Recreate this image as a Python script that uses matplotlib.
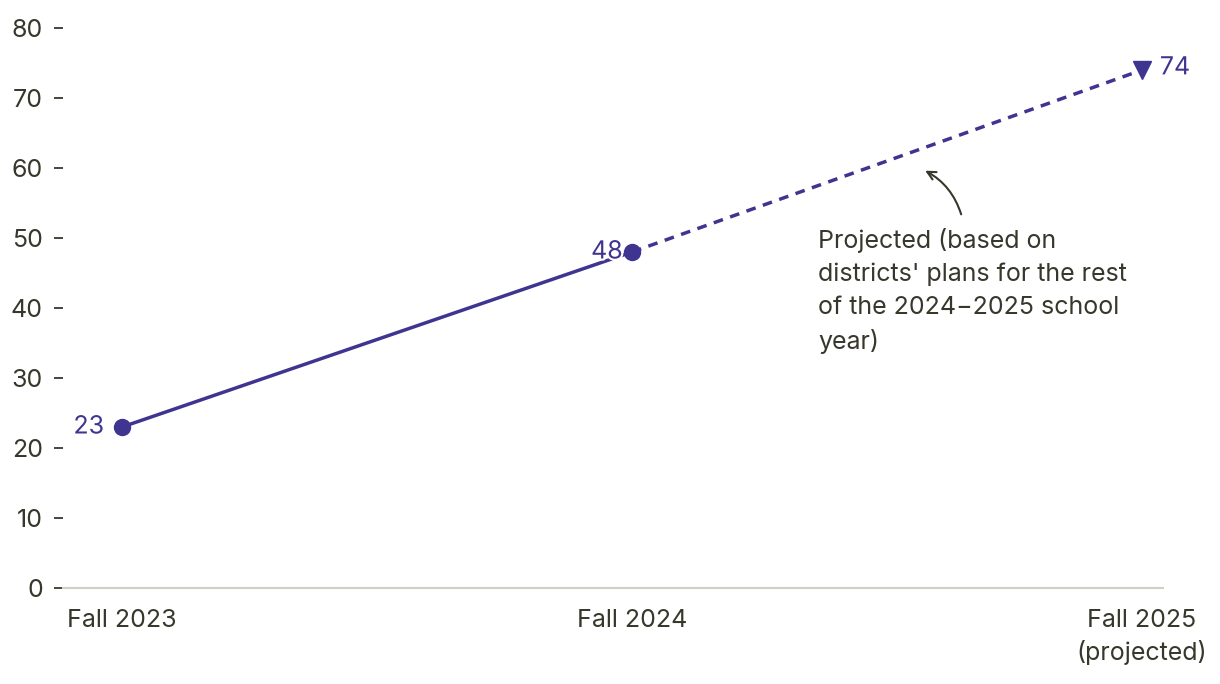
import matplotlib
matplotlib.use("Agg")
import matplotlib.pyplot as plt
import matplotlib.patheffects as pe

categories = ["Fall 2023", "Fall 2024", "Fall 2025\n(projected)"]
actual_values = [23, 48]
projected_values = [48, 74]
y_ticks = [0, 10, 20, 30, 40, 50, 60, 70, 80]
annotation_text = "Projected (based on\ndistricts' plans for the rest\nof the 2024\u22122025 school\nyear)"

PURPLE = "#3f3590"
TEXT = "#38372c"
GRID = "#d0cfc8"
FS = 18

plt.rcParams['font.family'] = ['Inter', 'DejaVu Sans']

fig = plt.figure(figsize=(12.2, 6.84), dpi=100)
ax = fig.add_axes([63/1220, 96/684, 1100/1220, (588-28)/684])

x = list(range(len(categories)))
ax.plot(x[:2], actual_values, color=PURPLE, lw=2.5, solid_capstyle='butt', zorder=2)
ax.plot(x[1:], projected_values, color=PURPLE, lw=2.5, linestyle=(0, (2.8, 2.2)), zorder=2)
ax.plot(x[:2], actual_values, 'o', color=PURPLE, ms=11.5, zorder=3)
ax.plot([x[2]], [projected_values[1]], 'v', color=PURPLE, ms=13.5, zorder=3)

halo = [pe.withStroke(linewidth=3, foreground='white')]
ax.text(x[0] - 0.035, actual_values[0], str(actual_values[0]), color=PURPLE, fontsize=FS,
        ha='right', va='center', zorder=4, path_effects=halo)
ax.text(x[1] - 0.018, actual_values[1], str(actual_values[1]), color=PURPLE, fontsize=FS,
        ha='right', va='center', zorder=4, path_effects=halo)
ax.text(x[2] + 0.035, projected_values[1] + 0.3, str(projected_values[1]), color=PURPLE, fontsize=FS,
        ha='left', va='center', zorder=4, path_effects=halo)

ax.set_xlim(-59/510, 2 + 21/510)
ax.set_ylim(0, 80)
ax.set_yticks(y_ticks)
ax.set_xticks(x)
ax.set_xticklabels(categories, fontsize=FS, color=TEXT, linespacing=1.4)
ax.tick_params(axis='x', length=0, pad=15)
ax.tick_params(axis='y', length=6.5, width=1.3, color=TEXT, labelcolor=TEXT, labelsize=FS, pad=8)

for s in ['top', 'right', 'left']:
    ax.spines[s].set_visible(False)
ax.spines['bottom'].set_color(GRID)
ax.spines['bottom'].set_linewidth(1.5)

ax.text(1.365, 51.4, annotation_text, fontsize=FS, color=TEXT, ha='left', va='top',
        linespacing=1.52)
ax.annotate("", xy=(1.57, 59.8), xytext=(1.647, 53.0),
            arrowprops=dict(arrowstyle='->', color=TEXT, lw=1.5,
                            connectionstyle='arc3,rad=0.22', mutation_scale=15))

fig.savefig("out.png", dpi=100, facecolor='white')
